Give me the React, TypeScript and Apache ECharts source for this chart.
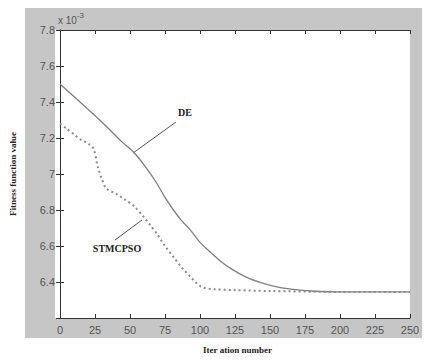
import React, { useEffect, useRef } from "react";
import * as echarts from "echarts";

const xTicks = [0, 25, 50, 75, 100, 125, 150, 175, 200, 225, 250];
const yTicks = [6.2, 6.4, 6.6, 6.8, 7, 7.2, 7.4, 7.6, 7.8];

const deIter = [0, 10, 20, 27, 35, 44, 50, 55, 62, 69, 75, 81, 87, 93, 100, 104, 114, 123, 135, 151, 165, 180, 200, 250];
const deValue = [7.5, 7.43, 7.36, 7.31, 7.25, 7.18, 7.14, 7.1, 7.03, 6.95, 6.87, 6.8, 6.74, 6.69, 6.62, 6.59, 6.52, 6.47, 6.42, 6.38, 6.36, 6.35, 6.345, 6.345];

const psoIter = [0, 5, 10, 15, 20, 24, 27, 30, 33, 40, 46, 53, 60, 65, 69, 75, 81, 87, 93, 98, 102, 110, 125, 150, 200, 250];
const psoValue = [7.28, 7.25, 7.22, 7.19, 7.17, 7.14, 7.04, 6.97, 6.92, 6.89, 6.86, 6.82, 6.76, 6.71, 6.67, 6.6, 6.54, 6.48, 6.43, 6.39, 6.37, 6.36, 6.355, 6.35, 6.345, 6.345];

const xTitle = "Iter ation number";
const yTitle = "Fitness function value";

export default function App() {
  const ref = useRef<HTMLDivElement>(null);
  useEffect(() => {
    document.body.style.margin = "0";
    if (!ref.current) return;
    const chart = echarts.init(ref.current, null, { renderer: "svg" });
    const tickFont = { fontFamily: "Liberation Sans, Arial, sans-serif", fontSize: 11, color: "#555" };
    const axisLine = { show: true, lineStyle: { color: "#333", width: 1 } };
    const axisTick = { show: true, inside: true, length: 4, lineStyle: { color: "#333" } };
    const fmtY = (v: number) => (v < 6.25 ? "" : Math.abs(v - 7) < 1e-6 ? "7" : v.toFixed(1));
    chart.setOption({
      animation: false,
      backgroundColor: "#ffffff",
      grid: { left: 55, top: 30, right: 14, bottom: 42 },
      graphic: [
        { type: "rect", z: -10, silent: true, shape: { x: 25, y: 8, width: 397, height: 330 }, style: { fill: "#c6c6c6" } },
        { type: "rect", z: -9, silent: true, shape: { x: 55, y: 30, width: 355, height: 288 }, style: { fill: "#ffffff" } },
        {
          type: "text", left: 58, top: 11,
          style: {
            text: "{a|x 10}{b|-3}",
            rich: {
              a: { fontFamily: "Liberation Sans, Arial, sans-serif", fontSize: 10, fill: "#555", verticalAlign: "bottom" },
              b: { fontFamily: "Liberation Sans, Arial, sans-serif", fontSize: 8, fill: "#555", verticalAlign: "top", padding: [0, 0, 6, 0] },
            },
          },
        },
        { type: "text", x: 185, y: 112, style: { text: "DE", font: "bold 10px 'Liberation Serif', serif", fill: "#222", align: "center", verticalAlign: "middle" } },
        { type: "line", shape: { x1: 176, y1: 122, x2: 133, y2: 153 }, style: { stroke: "#555", lineWidth: 1 } },
        { type: "text", x: 117, y: 248, style: { text: "STMCPSO", font: "bold 10px 'Liberation Serif', serif", fill: "#222", align: "center", verticalAlign: "middle" } },
        { type: "line", shape: { x1: 115, y1: 240, x2: 142, y2: 220 }, style: { stroke: "#555", lineWidth: 1 } },
      ],
      xAxis: [
        {
          type: "value", min: 0, max: 250, interval: 25, position: "bottom",
          name: xTitle, nameLocation: "middle", nameGap: 27,
          nameTextStyle: { fontFamily: "Liberation Serif, serif", fontWeight: "bold", fontSize: 9, color: "#222", padding: [0, 0, 0, 5] },
          axisLine, axisTick, splitLine: { show: false },
          axisLabel: { ...tickFont, margin: 6, formatter: (v: number) => (xTicks.includes(v) ? String(v) : "") },
        },
        {
          type: "value", min: 0, max: 250, interval: 25, position: "top",
          axisLine, axisTick, splitLine: { show: false }, axisLabel: { show: false },
        },
      ],
      yAxis: [
        {
          type: "value", min: 6.2, max: 7.8, interval: 0.2, position: "left",
          name: yTitle, nameLocation: "middle", nameGap: 43, nameRotate: 90,
          nameTextStyle: { fontFamily: "Liberation Serif, serif", fontWeight: "bold", fontSize: 9, color: "#222" },
          axisLine, axisTick, splitLine: { show: false },
          axisLabel: { ...tickFont, margin: 5, formatter: (v: number) => (yTicks.some((t) => Math.abs(t - v) < 1e-6) ? fmtY(v) : "") },
        },
        {
          type: "value", min: 6.2, max: 7.8, interval: 0.2, position: "right",
          axisLine, axisTick, splitLine: { show: false }, axisLabel: { show: false },
        },
      ],
      series: [
        {
          name: "DE", type: "line", smooth: 0.3, symbol: "none",
          data: deIter.map((x, i) => [x, deValue[i]]),
          lineStyle: { color: "#808080", width: 1.3 },
        },
        {
          name: "STMCPSO", type: "line", smooth: 0.3, symbol: "none",
          data: psoIter.map((x, i) => [x, psoValue[i]]),
          lineStyle: { color: "#8a8a8a", width: 2, type: [2, 3] },
        },
      ],
    });
    return () => chart.dispose();
  }, []);
  return <div ref={ref} style={{ width: 424, height: 360 }} />;
}
